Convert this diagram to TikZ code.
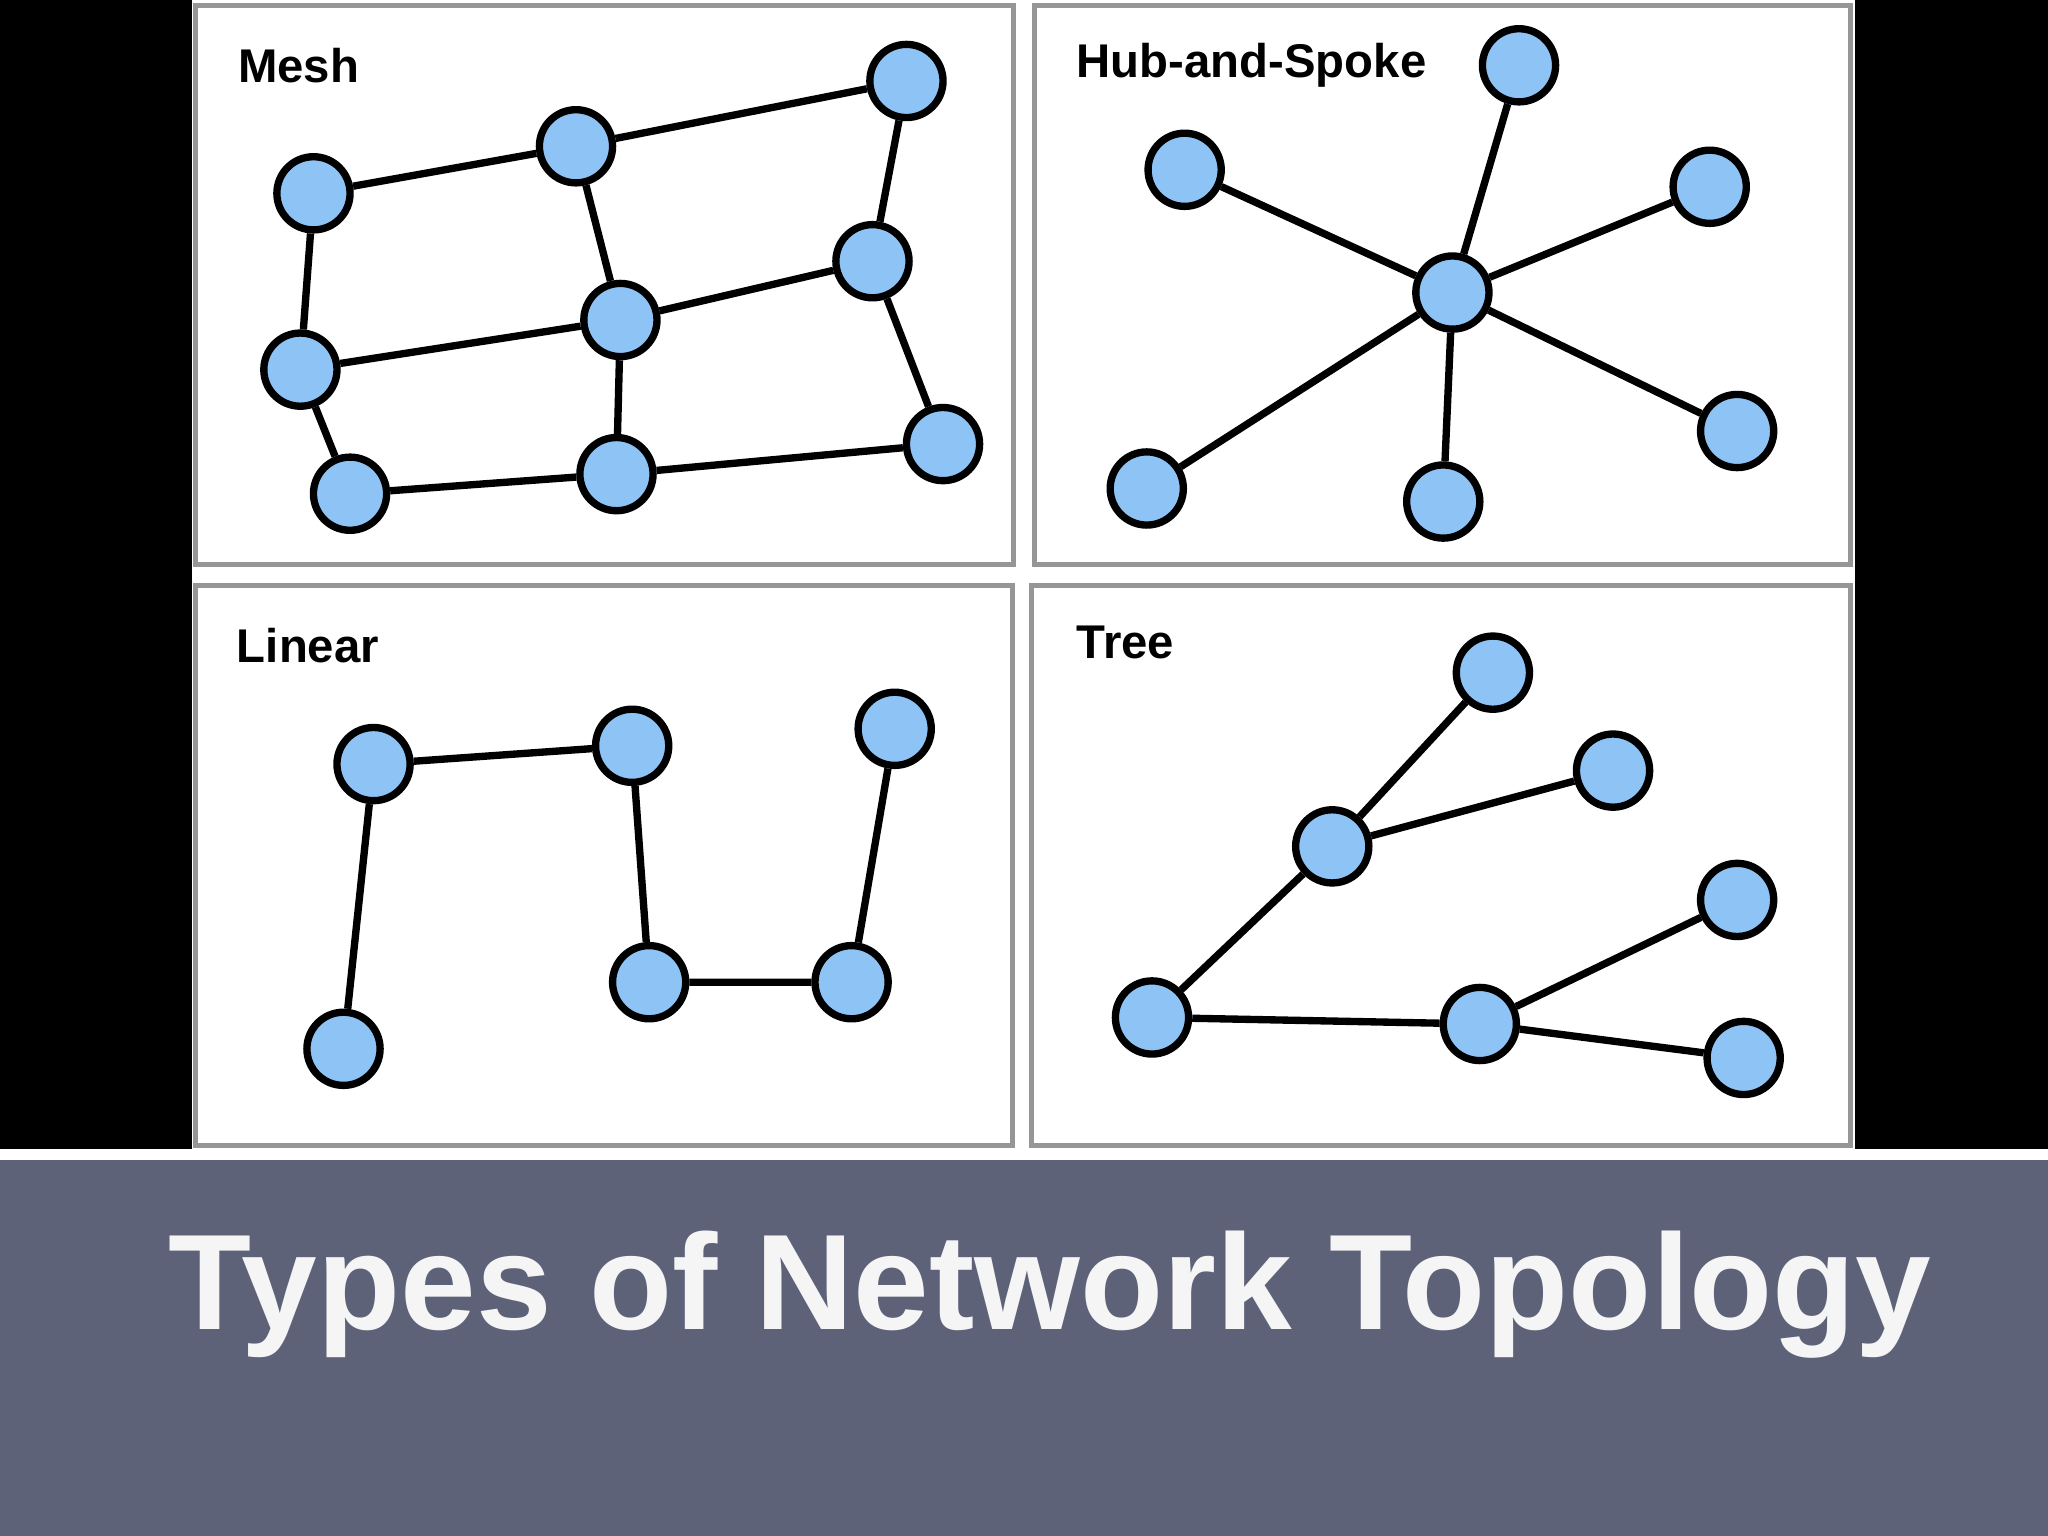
\documentclass[tikz,border=0pt]{standalone}
\usepackage{fontspec}
\setmainfont{Liberation Sans}
\usetikzlibrary{positioning, calc}

\definecolor{nodeblue}{RGB}{142,196,245}
\definecolor{bandgray}{RGB}{94,98,121}
\definecolor{framegray}{RGB}{150,150,150}

\tikzset{
  dev/.style={circle, draw=black, line width=1.6pt, fill=nodeblue, minimum size=0.56cm, inner sep=0pt},
  link/.style={line width=1.6pt, black},
  panel/.style={draw=framegray, line width=1.1pt, fill=white},
  tag/.style={anchor=west, font=\fontsize{10.3}{12}\selectfont\bfseries}
}

\begin{document}
\begin{tikzpicture}[x=0.01cm, y=-0.01cm]
                \useasboundingbox (0,0) rectangle (1568,1176);
                \fill[black] (0,0) rectangle (1568,880);
                \fill[white] (147,0) rectangle (1420,880);
                \fill[white] (0,880) rectangle (1568,888);
                \fill[bandgray] (0,888) rectangle (1568,1176);

                \draw[panel] (150,4) rectangle (776,432);
                \draw[panel] (792,4) rectangle (1417,432);
                \draw[panel] (150,448) rectangle (775,877);
                \draw[panel] (790,448) rectangle (1417,877);

                \node[tag] (mesh) at (170,50) {Mesh};
                \node[tag] (hub) at (812,50) {Hub-and-Spoke};
                \node[tag] (linear) at (169,494) {Linear};
                \node[tag] (tree) at (812,492) {Tree};

                % mesh
                \node[dev] (M1) at (240,148) {};
                \node[dev] (M2) at (441,112) {};
                \node[dev] (M3) at (694,62) {};
                \node[dev] (M4) at (230,283) {};
                \node[dev] (M5) at (475,245) {};
                \node[dev] (M6) at (668,200) {};
                \node[dev] (M7) at (268,378) {};
                \node[dev] (M8) at (472,363) {};
                \node[dev] (M9) at (722,340) {};
                \draw[link] (M1) -- (M2) (M2) -- (M3) (M1) -- (M4) (M2) -- (M5) (M3) -- (M6);
                \draw[link] (M4) -- (M5) (M5) -- (M6) (M4) -- (M7) (M5) -- (M8) (M6) -- (M9);
                \draw[link] (M7) -- (M8) (M8) -- (M9);

                % hub and spoke
                \node[dev] (H) at (1112,224) {};
                \node[dev] (S1) at (907,130) {};
                \node[dev] (S2) at (1163,50) {};
                \node[dev] (S3) at (1309,143) {};
                \node[dev] (S4) at (878,374) {};
                \node[dev] (S5) at (1105,384) {};
                \node[dev] (S6) at (1330,330) {};
                \foreach \s in {S1,S2,S3,S4,S5,S6}
                    \draw[link] (H) -- (\s);

                % linear
                \node[dev] (L1) at (263,803) {};
                \node[dev] (L2) at (286,585) {};
                \node[dev] (L3) at (484,571) {};
                \node[dev] (L4) at (497,752) {};
                \node[dev] (L5) at (652,752) {};
                \node[dev] (L6) at (685,558) {};
                \draw[link] (L1) -- (L2) -- (L3) -- (L4) -- (L5) -- (L6);

                % tree
                \node[dev] (T0) at (882,779) {};
                \node[dev] (T1) at (1020,648) {};
                \node[dev] (T2) at (1143,515) {};
                \node[dev] (T3) at (1235,590) {};
                \node[dev] (T4) at (1133,784) {};
                \node[dev] (T5) at (1330,689) {};
                \node[dev] (T6) at (1335,810) {};
                \draw[link] (T0) -- (T1) (T1) -- (T2) (T1) -- (T3);
                \draw[link] (T0) -- (T4) (T4) -- (T5) (T4) -- (T6);

                \node[text=white!96!black, font=\fontsize{29.6}{34}\selectfont\bfseries] (title) at (804,991) {Types of Network Topology};
            \end{tikzpicture}
\end{document}
